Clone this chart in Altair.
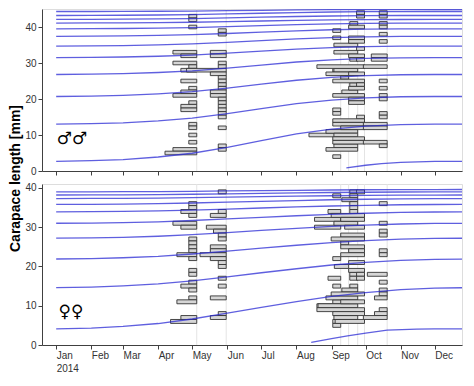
import altair as alt
import pandas as pd

# ---------------- data ----------------
month_starts = ["2014-%02d-01" % m for m in range(1, 13)] + ["2015-01-01"]

# Growth curves (carapace length, mm) read at month starts Jan 2014 ... Jan 2015
male_cohorts = [
    [2.65, 2.86, 3.17, 3.89, 4.93, 6.58, 8.45, 10.31, 11.65, 12.48, 12.90, 13.0, 13.0],
    [13.0, 13.15, 13.39, 13.92, 14.69, 15.93, 17.31, 18.70, 19.70, 20.32, 20.62, 20.7, 20.7],
    [20.7, 20.82, 21.01, 21.43, 22.04, 23.02, 24.12, 25.21, 26.01, 26.50, 26.74, 26.8, 26.8],
    [26.8, 26.89, 27.04, 27.36, 27.83, 28.59, 29.43, 30.28, 30.89, 31.27, 31.45, 31.5, 31.5],
    [31.5, 31.56, 31.66, 31.88, 32.2, 32.72, 33.29, 33.87, 34.28, 34.54, 34.67, 34.7, 34.7],
    [34.7, 34.75, 34.84, 35.02, 35.29, 35.73, 36.21, 36.7, 37.05, 37.27, 37.37, 37.4, 37.4],
    [37.4, 37.44, 37.51, 37.65, 37.86, 38.2, 38.58, 38.95, 39.23, 39.4, 39.48, 39.5, 39.5],
    [39.5, 39.53, 39.58, 39.69, 39.85, 40.11, 40.4, 40.68, 40.89, 41.02, 41.08, 41.1, 41.1],
    [41.1, 41.12, 41.15, 41.22, 41.32, 41.48, 41.66, 41.84, 41.97, 42.05, 42.09, 42.1, 42.1],
    [42.1, 42.12, 42.16, 42.23, 42.34, 42.52, 42.72, 42.91, 43.06, 43.15, 43.19, 43.2, 43.2],
    [43.2, 43.22, 43.26, 43.33, 43.44, 43.62, 43.82, 44.01, 44.16, 44.25, 44.29, 44.3, 44.3],
    [44.3, 44.31, 44.33, 44.37, 44.43, 44.53, 44.64, 44.74, 44.8, 44.84, 44.85, 44.85, 44.85],
]
male_young_dates = ["2014-09-14", "2014-10-01", "2014-10-15", "2014-11-01", "2014-12-01", "2015-01-01"]
male_young_mm = [0.85, 1.6, 2.05, 2.4, 2.65, 2.65]

female_cohorts = [
    [4.1, 4.31, 4.73, 5.47, 6.62, 8.09, 9.56, 11.03, 12.4, 13.34, 14.08, 14.5, 14.6],
    [14.6, 14.75, 15.04, 15.55, 16.35, 17.37, 18.4, 19.42, 20.37, 21.02, 21.54, 21.83, 21.9],
    [21.9, 22.01, 22.22, 22.59, 23.17, 23.91, 24.66, 25.4, 26.09, 26.56, 26.94, 27.15, 27.2],
    [27.2, 27.28, 27.43, 27.69, 28.11, 28.64, 29.18, 29.71, 30.2, 30.54, 30.81, 30.96, 31.0],
    [31.0, 31.06, 31.17, 31.38, 31.7, 32.1, 32.51, 32.91, 33.29, 33.55, 33.76, 33.87, 33.9],
    [33.9, 33.94, 34.01, 34.15, 34.36, 34.62, 34.89, 35.15, 35.4, 35.57, 35.71, 35.78, 35.8],
    [35.8, 35.83, 35.89, 36.0, 36.16, 36.37, 36.58, 36.79, 36.99, 37.12, 37.23, 37.29, 37.3],
    [37.3, 37.32, 37.35, 37.42, 37.52, 37.64, 37.77, 37.89, 38.01, 38.09, 38.16, 38.19, 38.2],
    [38.2, 38.22, 38.25, 38.3, 38.39, 38.5, 38.62, 38.73, 38.83, 38.9, 38.96, 38.99, 39.0],
    [39.0, 39.01, 39.04, 39.08, 39.14, 39.23, 39.31, 39.4, 39.47, 39.53, 39.57, 39.59, 39.6],
]
female_young_dates = ["2014-08-14", "2014-09-01", "2014-09-15", "2014-10-01", "2014-10-20", "2014-11-15", "2014-12-01", "2015-01-01"]
female_young_mm = [0.65, 1.6, 2.3, 3.0, 3.8, 4.05, 4.1, 4.1]

sample_dates = ["2014-05-05", "2014-05-31", "2014-09-09", "2014-09-16", "2014-09-24", "2014-09-30", "2014-10-20"]

# Length-frequency samples: bin mid (mm) and relative frequency
male_may05_mid = [43, 42, 40, 33, 32, 30, 29, 28, 25, 23, 22, 21, 19, 18, 17, 13, 12, 10, 8, 6, 5]
male_may05_n = [1, 1, 1, 3, 2, 3, 1, 2, 2, 1, 2, 3, 1, 2, 2, 1, 1, 1, 1, 3, 4]
male_may31_mid = [39, 38, 33, 32, 30, 29, 28, 27, 26, 25, 24, 23, 22, 21, 20, 19, 18, 17, 16, 15, 12, 7, 6]
male_may31_n = [1, 1, 2, 2, 1, 1, 5, 2, 1, 1, 1, 1, 2, 2, 1, 1, 1, 1, 1, 1, 1, 1, 1]
male_sep09_mid = [39, 37, 17, 16, 10, 4]
male_sep09_n = [1, 1, 1, 1, 4, 1]
male_sep16_mid = [28, 26, 11]
male_sep16_n = [2, 1, 1]
male_sep24_mid = [41, 35, 33, 31, 28, 27, 24, 22, 11, 10, 7, 6]
male_sep24_n = [1, 3, 3, 1, 3, 4, 1, 2, 4, 3, 3, 4]
male_sep30_mid = [44, 43, 40, 37, 36, 34, 32, 31, 29, 27, 25, 24, 23, 21, 20, 19, 15, 14, 13, 12, 9, 8]
male_sep30_n = [1, 1, 2, 2, 2, 1, 2, 1, 6, 2, 4, 1, 2, 4, 2, 2, 1, 4, 4, 3, 4, 4]
male_oct20_mid = [44, 43, 41, 40, 38, 36, 32, 31, 29, 25, 23, 21, 20, 16, 15, 13, 12, 8, 7]
male_oct20_n = [1, 1, 1, 1, 1, 1, 2, 2, 3, 1, 1, 1, 1, 1, 1, 3, 3, 3, 1]

fem_may05_mid = [36, 35, 34, 33, 31, 30, 27, 26, 25, 24, 23, 22, 19, 18, 16, 15, 14, 12, 11, 7, 6]
fem_may05_n = [1, 1, 2, 1, 3, 2, 1, 1, 1, 1, 2.5, 1, 1, 1, 1, 2, 1, 1, 2.5, 2, 3.3]
fem_may31_mid = [39, 34, 33, 30, 29, 28, 27, 25, 24, 23, 22, 21, 20, 17, 15, 12, 8, 7]
fem_may31_n = [1, 1, 2, 2.5, 1.6, 1, 1, 2, 2, 3.3, 2, 1, 1, 1, 1, 2, 1, 2]
fem_sep09_mid = [38, 34, 32, 30, 22, 17, 15, 10, 6, 5]
fem_sep09_n = [1, 1.6, 3.3, 3.3, 1, 1.6, 1, 3, 1, 1]
fem_sep16_mid = [26, 20, 11]
fem_sep16_n = [1, 1.8, 2]
fem_sep24_mid = [39, 38, 37, 36, 35, 34, 31, 18, 17, 15, 14, 12, 10, 7]
fem_sep24_n = [1, 1, 2, 1, 1, 1, 3, 1, 1, 1, 2, 4, 5, 3]
fem_sep30_mid = [39, 33, 32, 30, 28, 27, 25, 24, 23, 21, 19, 18, 17, 13, 11, 9, 8, 6]
fem_sep30_n = [1, 4.2, 3, 2.5, 3, 4.2, 3, 2, 3, 2, 2, 1, 1, 4.2, 3, 6, 4, 3.7]
fem_oct20_mid = [36, 31, 29, 28, 24, 23, 18, 16, 14, 13, 12, 9, 8, 7]
fem_oct20_n = [1, 1, 1, 1, 1, 1, 2.5, 1, 1, 1, 1.6, 1, 1.6, 3]

male_samples = [(sample_dates[0], male_may05_mid, male_may05_n),
                (sample_dates[1], male_may31_mid, male_may31_n),
                (sample_dates[2], male_sep09_mid, male_sep09_n),
                (sample_dates[3], male_sep16_mid, male_sep16_n),
                (sample_dates[4], male_sep24_mid, male_sep24_n),
                (sample_dates[5], male_sep30_mid, male_sep30_n),
                (sample_dates[6], male_oct20_mid, male_oct20_n)]
female_samples = [(sample_dates[0], fem_may05_mid, fem_may05_n),
                  (sample_dates[1], fem_may31_mid, fem_may31_n),
                  (sample_dates[2], fem_sep09_mid, fem_sep09_n),
                  (sample_dates[3], fem_sep16_mid, fem_sep16_n),
                  (sample_dates[4], fem_sep24_mid, fem_sep24_n),
                  (sample_dates[5], fem_sep30_mid, fem_sep30_n),
                  (sample_dates[6], fem_oct20_mid, fem_oct20_n)]

DAYS_PER_UNIT = 7  # bar length scale (days per frequency unit)

# ---------------- tables ----------------
def lines_table(cohorts, young_dates, young_mm):
    rows = []
    for i, vals in enumerate(cohorts):
        for d, v in zip(month_starts, vals):
            rows.append({"cohort": i, "date": pd.Timestamp(d), "mm": v})
    for d, v in zip(young_dates, young_mm):
        rows.append({"cohort": -1, "date": pd.Timestamp(d), "mm": v})
    return pd.DataFrame(rows)


def bars_table(samples):
    rows = []
    for k, (d, mids, ns) in enumerate(samples):
        end = pd.Timestamp(d)
        for m, n in zip(mids, ns):
            rows.append({"order": k, "start": end - pd.Timedelta(days=DAYS_PER_UNIT * n),
                         "end": end, "lo": m - 0.5, "hi": m + 0.5})
    return pd.DataFrame(rows)


samples_df = pd.DataFrame({"date": pd.to_datetime(sample_dates)})

XDOM = [alt.DateTime(year=2013, month=12, date=19, hours=12),
        alt.DateTime(year=2014, month=12, date=25)]
TICKS = [alt.DateTime(year=2014, month=m, date=1) for m in range(1, 13)]
AXIS_COLOR = "#404040"
LABEL_FONT = "Liberation Sans"


def x_axis(show_labels):
    return alt.Axis(values=TICKS, title=None, grid=False, labels=show_labels,
                    format="%b",
                    labelExpr="month(datum.value) == 0 ? ['Jan', '2014'] : timeFormat(datum.value, '%b')",
                    labelAlign="left", labelBaseline="top", labelPadding=1,
                    labelLineHeight=13, labelFontSize=10, labelFont=LABEL_FONT,
                    labelColor="#333333", labelOverlap=False, labelFlush=False,
                    tickSize=4, tickColor=AXIS_COLOR, domainColor=AXIS_COLOR)


def panel(lines_df, bars_df, ymax, height, symbol, sym_date, sym_mm, show_labels, y_title):
    xs = alt.Scale(domain=XDOM)
    ys = alt.Scale(domain=[0, ymax], nice=False, zero=True)
    yaxis_kw = dict(values=[0, 10, 20, 30, 40], grid=False, tickSize=4, labelPadding=2,
                    labelFontSize=10, labelFont=LABEL_FONT, labelColor="#333333",
                    tickColor=AXIS_COLOR, domainColor=AXIS_COLOR)
    if y_title:
        yaxis = alt.Axis(title="Carapace length [mm]", titleFont=LABEL_FONT, titleFontSize=14,
                         titleFontWeight="bold", titleColor="black", titleAngle=270,
                         titleX=-26.5, titleY=height + 7, titleAlign="center",
                         titleBaseline="middle", **yaxis_kw)
    else:
        yaxis = alt.Axis(title=None, **yaxis_kw)

    rules = alt.Chart(samples_df).mark_rule(color="#e4e4e4", strokeWidth=1).encode(
        x=alt.X("date:T", scale=xs, axis=x_axis(show_labels)))

    bars = alt.Chart(bars_df).mark_rect(fill="#d6d6d6", stroke="#333333", strokeWidth=0.9).encode(
        x=alt.X("start:T", scale=xs, axis=x_axis(show_labels)),
        x2="end:T",
        y=alt.Y("lo:Q", scale=ys, axis=yaxis),
        y2="hi:Q",
        order="order:Q")

    lines = alt.Chart(lines_df).mark_line(clip=True, color="#2a2ad4", opacity=0.75,
                                          strokeWidth=1.3).encode(
        x=alt.X("date:T", scale=xs, axis=x_axis(show_labels)),
        y=alt.Y("mm:Q", scale=ys, axis=yaxis),
        detail="cohort:N")

    sym = alt.Chart(pd.DataFrame({"date": [pd.Timestamp(sym_date)], "mm": [sym_mm], "s": [symbol]})
                    ).mark_text(font="DejaVu Sans", fontSize=17, color="black").encode(
        x=alt.X("date:T", scale=xs, axis=x_axis(show_labels)),
        y=alt.Y("mm:Q", scale=ys, axis=yaxis),
        text="s:N")

    return alt.layer(rules, bars, lines, sym).properties(width=420, height=height)


top = panel(lines_table(male_cohorts, male_young_dates, male_young_mm), bars_table(male_samples),
            45, 162, "\u2642\u2642", "2014-01-15", 8.8, False, True)
bottom = panel(lines_table(female_cohorts, female_young_dates, female_young_mm), bars_table(female_samples),
               41, 161, "\u2640\u2640", "2014-01-14", 8.4, True, False)

chart = alt.vconcat(top, bottom, spacing=13, bounds="flush").properties(
    padding={"left": 0, "top": 0, "right": 0, "bottom": 0}
).configure_view(stroke=None).configure(background="white")

chart.save("out.html", embed_options={"renderer": "svg", "actions": False})
